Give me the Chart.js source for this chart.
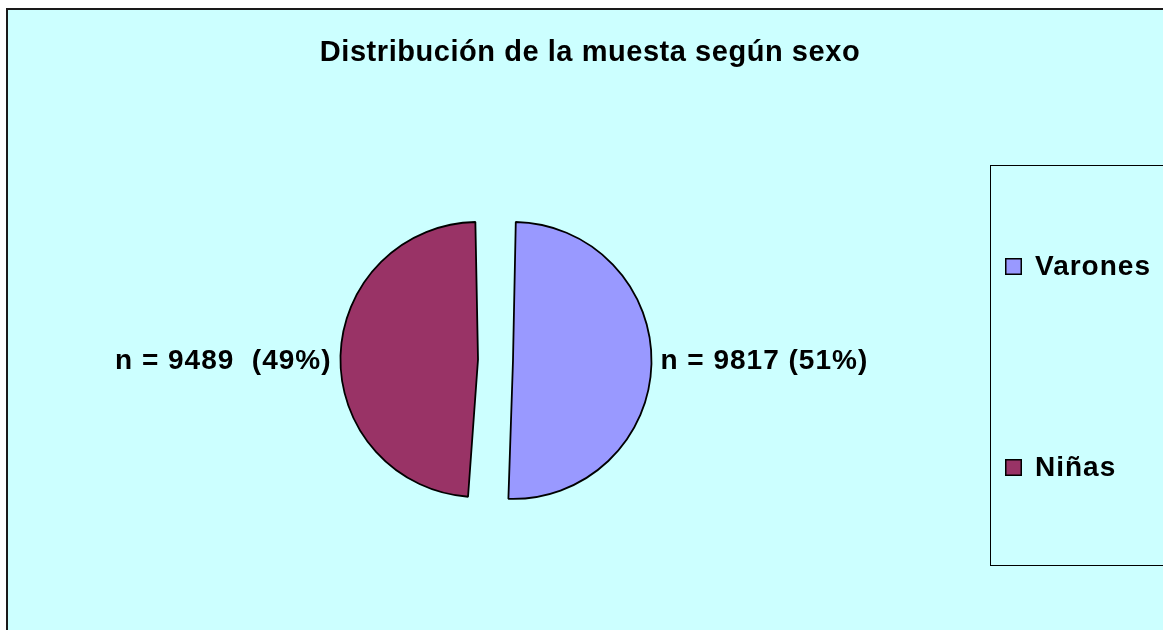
<!DOCTYPE html>
<html>
<head>
<meta charset="utf-8">
<title>Distribución de la muesta según sexo</title>
<script src="https://cdn.jsdelivr.net/npm/chart.js@4/dist/chart.umd.min.js"></script>
<style>
  html, body { margin: 0; padding: 0; background: #ffffff; }
  #wrap { position: relative; width: 1163px; height: 630px; }
</style>
</head>
<body>
<div id="wrap"><canvas id="myChart" width="1163" height="630"></canvas></div>
<script>
const chartTitle = "Distribución de la muesta según sexo";
const categories = ["Varones", "Niñas"];
const counts = [9817, 9489];
const sliceLabels = ["n = 9817 (51%)", "n = 9489  (49%)"];
const sliceColors = ["#9999FF", "#993366"];

const FONT = "'Liberation Sans', Arial, sans-serif";

// background, frame, title, legend box and slice labels
const decorPlugin = {
  id: "decor",
  beforeDraw: (chart) => {
    const ctx = chart.ctx;
    ctx.save();
    ctx.fillStyle = "#ffffff";
    ctx.fillRect(0, 0, chart.width, chart.height);
    ctx.fillStyle = "#1a1a1a";
    ctx.fillRect(6, 8, chart.width, chart.height);
    ctx.fillStyle = "#CCFFFF";
    ctx.fillRect(8, 10, chart.width, chart.height);

    // title
    ctx.fillStyle = "#000000";
    ctx.font = "bold 29px " + FONT;
    ctx.letterSpacing = "0.55px";
    ctx.textAlign = "center";
    ctx.textBaseline = "alphabetic";
    ctx.fillText(chartTitle, 590, 61);

    // legend box
    ctx.strokeStyle = "#000000";
    ctx.lineWidth = 1;
    ctx.strokeRect(990.5, 165.5, 300, 400);
    const ys = [275, 476];
    chart.data.labels.forEach((lab, i) => {
      const col = chart.data.datasets[0].backgroundColor[i];
      ctx.fillStyle = col;
      ctx.fillRect(1005, ys[i] - 17, 17, 17);
      ctx.lineWidth = 1.5;
      ctx.strokeRect(1005.75, ys[i] - 16.25, 15.5, 15.5);
      ctx.fillStyle = "#000000";
      ctx.font = "bold 28px " + FONT;
      ctx.letterSpacing = "1px";
      ctx.textAlign = "left";
      ctx.fillText(lab, 1035, ys[i]);
    });
    ctx.restore();
  },
  afterDatasetsDraw: (chart) => {
    const ctx = chart.ctx;
    const meta = chart.getDatasetMeta(0);
    const ds = chart.data.datasets[0];
    ctx.save();
    ctx.fillStyle = "#000000";
    ctx.font = "bold 28px " + FONT;
    ctx.letterSpacing = "1px";
    ctx.textBaseline = "middle";
    meta.data.forEach((arc, i) => {
      const mid = (arc.startAngle + arc.endAngle) / 2;
      const shift = ds.offset / 4;
      const r = arc.outerRadius + shift * 2 + 9;
      const px = arc.x + Math.cos(mid) * r;
      const right = Math.cos(mid) >= 0;
      ctx.textAlign = right ? "left" : "right";
      ctx.fillText(sliceLabels[i], right ? px : px + 1, arc.y + 1);
    });
    ctx.restore();
  }
};

const ctx = document.getElementById("myChart").getContext("2d");

const myChart = new Chart(ctx, {
  type: "pie",
  data: {
    labels: categories,
    datasets: [
      {
        data: counts,
        backgroundColor: sliceColors,
        borderColor: "#000000",
        borderWidth: 1.8,
        offset: 70,
      },
    ],
  },
  options: {
    responsive: false,
    animation: false,
    radius: 121,
    layout: {
      padding: { left: 100, right: 272, top: 90, bottom: 0 },
    },
    plugins: {
      legend: { display: false },
      title: { display: false },
      tooltip: { enabled: false },
    },
    events: [],
  },
  plugins: [decorPlugin],
});
</script>
</body>
</html>
